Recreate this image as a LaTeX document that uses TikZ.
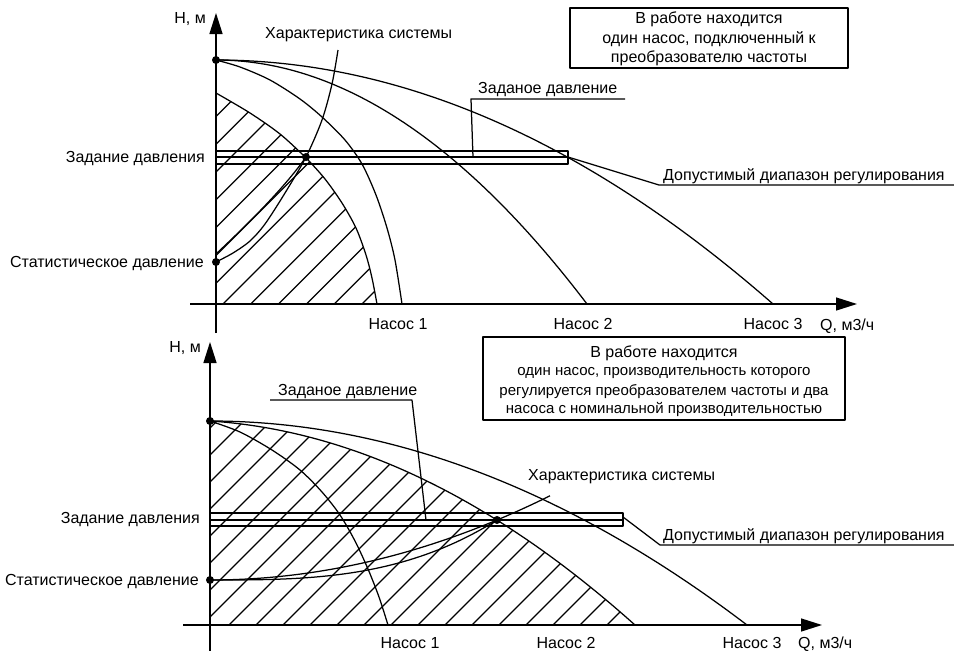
\documentclass[tikz,border=0pt]{standalone}
\usepackage{fontspec}
\setmainfont{Liberation Sans}
\usetikzlibrary{arrows.meta}
\begin{document}
\begin{tikzpicture}[x=1pt,y=-1pt,line join=round,
  lbl/.style={inner sep=0pt,font=\fontsize{16}{19}\selectfont},
  lblsm/.style={inner sep=0pt,font=\fontsize{15}{18}\selectfont},
  dot/.style={circle,fill=black,inner sep=0pt,minimum size=8pt},
  ln/.style={line width=1.25pt},
  hatchline/.style={line width=1.25pt},
  axisline/.style={line width=1.4pt,-{Triangle[length=21pt,width=13pt]}},
  frame/.style={line width=1.4pt}]
\useasboundingbox (0,0) rectangle (954,651);

%================ TOP CHART =================
\begin{scope}
\clip (216,304) -- (216,93) -- plot[smooth,tension=0.5] coordinates {(216,93) (250,113) (280,134) (306,158) (325,179) (342,203) (356,228) (366,255) (372,278) (377,304)} -- cycle;
\foreach \k in {-4,...,12} \draw[hatchline] ({388+27.8*\k-350},350) -- ({388+27.8*\k},0);
\end{scope}
\draw[ln] plot[smooth,tension=0.5] coordinates {(216,93) (250,113) (280,134) (306,158) (325,179) (342,203) (356,228) (366,255) (372,278) (377,304)};

% pump curves
\draw[ln] plot[smooth,tension=0.5] coordinates {(216,60) (240,67) (270,80) (300,99) (322,117) (345,140) (362,164) (376,195) (387,228) (395,260) (402,304)};
\draw[ln] plot[domain=0:371,samples=70] ({216+\x},{304-244*(1-(\x/371)^2)});
\draw[ln] plot[domain=0:557,samples=90] ({216+\x},{304-244*(1-(\x/557)^2)});

% band
\coordinate (TbandL) at (216,157);
\coordinate (TbandR) at (568,157);
\draw[ln] (216,151) rectangle (568,164);
\draw[ln] (TbandL) -- (TbandR);

% dots
\node[dot] (Thmax) at (216,60) {};
\node[dot] (Tstat) at (216,262) {};
\node[dot] (Top) at (306,157) {};

% system characteristic
\draw[ln] plot[smooth,tension=0.5] coordinates {(216,262) (233,253) (250,241) (265,224) (285,193) (306,157) (322,120) (332,84) (338,50)};
\draw[ln] (216,254) .. controls (250,222) and (285,187) .. (Top.center);

% axes
\coordinate (Ty0) at (216,333);
\coordinate (Tytip) at (216,13);
\coordinate (Tx0) at (190,304);
\coordinate (Txtip) at (857,304);
\draw[axisline] (Ty0) -- (Tytip);
\draw[axisline] (Tx0) -- (Txtip);

% labels
\node[lbl,anchor=base east] (TH) at (206,23) {H, м};
\node[lbl,anchor=base west] (Tchar) at (265,38) {Характеристика системы};
\node[lbl,anchor=base west] (Tzd) at (478,93) {Заданое давление};
\coordinate (TzdA) at (473,157);
\coordinate (TzdB) at (471,99);
\coordinate (TzdC) at (625,99);
\draw[ln] (TzdA) -- (TzdB) -- (TzdC);
\node[lbl,anchor=base west] (Tdd) at (663,180) {Допустимый диапазон регулирования};
\coordinate (TddB) at (659,185);
\coordinate (TddC) at (954,185);
\draw[ln] (TbandR) -- (TddB) -- (TddC);
\node[lbl,anchor=base east] (Tzad) at (205,162) {Задание давления};
\node[lbl,anchor=base east] (Tst) at (204,267) {Статистическое давление};
\node[lbl,anchor=base] (Tn1) at (398,329) {Насос 1};
\node[lbl,anchor=base] (Tn2) at (583,329) {Насос 2};
\node[lbl,anchor=base] (Tn3) at (773,329) {Насос 3};
\node[lbl,anchor=base west] (TQ) at (820,330) {Q, м3/ч};

% box
\draw[frame] (570,8) rectangle (848,68);
\node[lbl,anchor=base] (Tb1) at (709,23) {В работе находится};
\node[lbl,anchor=base] (Tb2) at (709,43) {один насос, подключенный к};
\node[lbl,anchor=base] (Tb3) at (709,62) {преобразователю частоты};

%================ BOTTOM CHART =================
\begin{scope}
\clip (210,625) -- (210,421) -- plot[domain=0:425,samples=80] ({210+\x},{625-(204-0.065*\x-0.000977*\x*\x)}) -- cycle;
\foreach \k in {-3,...,24} \draw[hatchline] ({665+27*\k-651},651) -- ({665+27*\k-380},380);
\end{scope}
\draw[ln] plot[domain=0:425,samples=80] ({210+\x},{625-(204-0.065*\x-0.000977*\x*\x)});

\draw[ln] plot[smooth,tension=0.5] coordinates {(210,421) (240,432) (272,450) (300,470) (322,492) (340,515) (355,541) (368,569) (379,597) (388,625)};
\draw[ln] plot[domain=0:537,samples=90] ({210+\x},{625-204*(1-(\x/537)^2)});

% band
\coordinate (BbandL) at (210,520);
\coordinate (BbandR) at (623,520);
\draw[ln] (210,513) rectangle (623,526);
\draw[ln] (BbandL) -- (BbandR);

% system characteristic
\draw[ln] plot[domain=0:340,samples=60] ({210+\x},{580-60*(\x/287)^2});
\draw[ln] plot[domain=0:287,samples=50] ({210+\x},{580-60*(\x/287)^3});

% axes
\coordinate (By0) at (210,651);
\coordinate (Bytip) at (210,342);
\coordinate (Bx0) at (183,625);
\coordinate (Bxtip) at (822,625);
\draw[axisline] (By0) -- (Bytip);
\draw[axisline] (Bx0) -- (Bxtip);

% dots
\node[dot] (Bhmax) at (210,421) {};
\node[dot] (Bstat) at (210,580) {};
\node[dot] (Bop) at (497,520) {};

% labels
\node[lbl,anchor=base east] (BH) at (201,352) {H, м};
\node[lbl,anchor=base west] (Bzd) at (278,395) {Заданое давление};
\coordinate (BzdA) at (270,400);
\coordinate (BzdB) at (412,400);
\coordinate (BzdC) at (426,520);
\draw[ln] (BzdA) -- (BzdB) -- (BzdC);
\node[lbl,anchor=base west] (Bchar) at (528,480) {Характеристика системы};
\node[lbl,anchor=base west] (Bdd) at (663,540) {Допустимый диапазон регулирования};
\coordinate (BddA) at (623,517);
\coordinate (BddB) at (660,545);
\coordinate (BddC) at (954,545);
\draw[ln] (BddA) -- (BddB) -- (BddC);
\node[lbl,anchor=base east] (Bzad) at (200,523) {Задание давления};
\node[lbl,anchor=base east] (Bst) at (199,585) {Статистическое давление};
\node[lbl,anchor=base] (Bn1) at (410,648) {Насос 1};
\node[lbl,anchor=base] (Bn2) at (566,648) {Насос 2};
\node[lbl,anchor=base] (Bn3) at (752,648) {Насос 3};
\node[lbl,anchor=base west] (BQ) at (798,648) {Q, м3/ч};

% box
\draw[frame] (483,337) rectangle (845,420);
\node[lbl,anchor=base] (Bb1) at (664,357) {В работе находится};
\node[lblsm,anchor=base] (Bb2) at (664,375) {один насос, производительность которого};
\node[lblsm,anchor=base] (Bb3) at (664,395) {регулируется преобразователем частоты и два};
\node[lblsm,anchor=base] (Bb4) at (664,413) {насоса с номинальной производительностью};
\end{tikzpicture}
\end{document}
